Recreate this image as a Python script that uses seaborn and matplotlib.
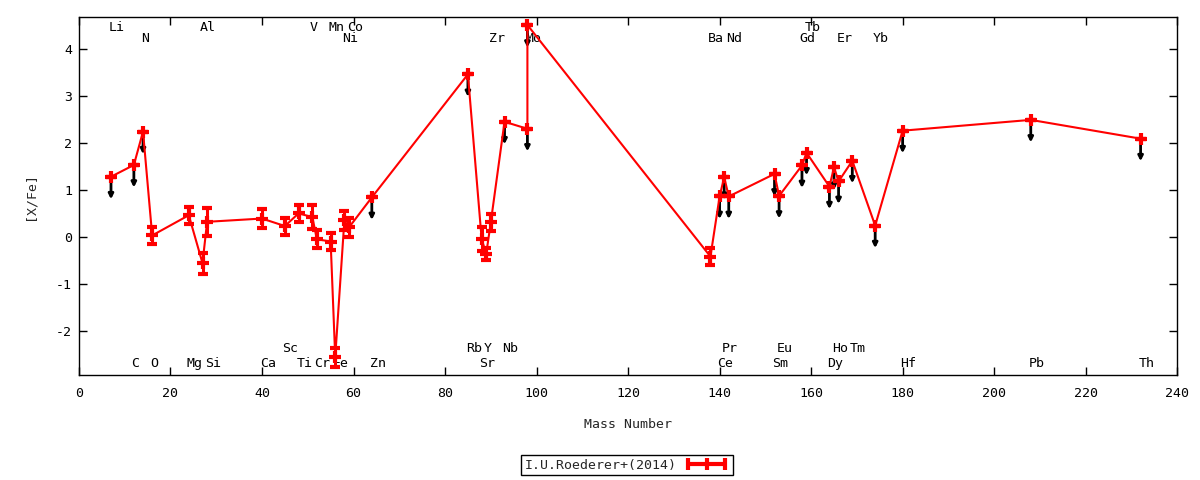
import matplotlib
matplotlib.use('Agg')
import matplotlib.pyplot as plt
from matplotlib.lines import Line2D
import pandas as pd
import seaborn as sns

# Roederer+(2014) abundances, ordered by mass number
element = ['Li', 'C', 'N', 'O', 'Mg', 'Al', 'Si', 'Ca', 'Sc', 'Ti', 'V', 'Cr', 'Mn', 'Fe',
           'Ni', 'Co', 'Zn', 'Rb', 'Sr', 'Y', 'Zr', 'Nb', 'Mo', 'Mo', 'Ba', 'Ce', 'Pr', 'Nd',
           'Sm', 'Eu', 'Gd', 'Tb', 'Dy', 'Ho', 'Er', 'Tm', 'Yb', 'Hf', 'Pb', 'Th']
mass = [7, 12, 14, 16, 24, 27, 28, 40, 45, 48, 51, 52, 55, 56,
        58, 59, 64, 85, 88, 89, 90, 93, 98, 98, 138, 140, 141, 142,
        152, 153, 158, 159, 164, 165, 166, 169, 174, 180, 208, 232]
xfe = [1.28, 1.53, 2.24, 0.03, 0.46, -0.56, 0.32, 0.39, 0.23, 0.50, 0.42, -0.05, -0.10, -2.56,
       0.35, 0.20, 0.84, 3.46, -0.05, -0.36, 0.31, 2.45, 2.30, 4.51, -0.42, 0.86, 1.27, 0.86,
       1.34, 0.87, 1.52, 1.79, 1.07, 1.48, 1.18, 1.62, 0.24, 2.26, 2.49, 2.09]
err = [0, 0, 0, 0.19, 0.18, 0.22, 0.30, 0.20, 0.18, 0.18, 0.25, 0.19, 0.19, 0.20,
       0.20, 0.20, 0, 0, 0.25, 0.13, 0.18, 0, 0, 0, 0.18, 0, 0, 0,
       0, 0, 0, 0, 0, 0, 0, 0, 0, 0, 0, 0]
upper = [1, 1, 1, 0, 0, 0, 0, 0, 0, 0, 0, 0, 0, 0,
         0, 0, 1, 1, 0, 0, 0, 1, 1, 1, 0, 1, 1, 1,
         1, 1, 1, 1, 1, 1, 1, 1, 1, 1, 1, 1]

# element name labels and the row they sit in
label_names = ['Li', 'Al', 'V', 'Mn', 'Co', 'Tb',
               'N', 'Ni', 'Zr', 'Mo', 'Ba', 'Nd', 'Gd', 'Er', 'Yb',
               'Sc', 'Rb', 'Y', 'Nb', 'Pr', 'Eu', 'Ho', 'Tm',
               'C', 'O', 'Mg', 'Si', 'Ca', 'Ti', 'Cr', 'Fe', 'Zn', 'Sr', 'Ce', 'Sm', 'Dy', 'Hf', 'Pb', 'Th']
label_mass = [7, 27, 51, 55, 59, 159,
              14, 58, 90, 98, 138, 142, 158, 166, 174,
              45, 85, 89, 93, 141, 153, 165, 169,
              12, 16, 24, 28, 40, 48, 52, 56, 64, 88, 140, 152, 164, 180, 208, 232]
label_row = [0] * 6 + [1] * 9 + [2] * 8 + [3] * 16
row_y = [4.45, 4.23, -2.38, -2.70]

df = pd.DataFrame({'mass': mass, 'xfe': xfe, 'err': err, 'upper': upper})

sns.set_theme(style='ticks')
plt.rcParams['font.family'] = ['DejaVu Sans Mono', 'DejaVu Sans']
plt.rcParams['font.size'] = 9.5
plt.rcParams['axes.unicode_minus'] = False

fig, ax = plt.subplots(figsize=(12, 4.8), dpi=100)
fig.subplots_adjust(left=0.0658, right=0.981, top=0.9646, bottom=0.2188)

for name, m, r in zip(label_names, label_mass, label_row):
    ax.text(m - 0.5, row_y[r], name, ha='left', va='center', fontsize=9.5, color='black', zorder=1)

# upper limits: black arrows pointing down
ul = df[df['upper'] == 1]
for m, v in zip(ul['mass'], ul['xfe']):
    ax.annotate('', xy=(m, v - 0.48), xytext=(m, v),
                arrowprops=dict(arrowstyle='-|>', color='black', lw=2, mutation_scale=7,
                                shrinkA=0, shrinkB=0), zorder=2)

ax.errorbar(df['mass'], df['xfe'], yerr=df['err'], fmt='none', ecolor='red',
            elinewidth=2.2, capsize=3.8, capthick=3, zorder=3)
sns.lineplot(data=df, x='mass', y='xfe', sort=False, estimator=None, color='red', lw=1.5,
             marker='+', markersize=8, markeredgewidth=3, markeredgecolor='red', ax=ax, zorder=4)

ax.set_xlim(0, 240)
ax.set_ylim(-2.94, 4.68)
ax.set_xticks(range(0, 241, 20))
ax.set_yticks(range(-2, 5))
ax.tick_params(direction='in', top=True, right=True, length=6, width=1, colors='black',
               labelsize=9.5)
ax.tick_params(axis='x', pad=9)
ax.tick_params(axis='y', pad=5)
for s in ax.spines.values():
    s.set_visible(True)
    s.set_color('black')
    s.set_linewidth(1)

ax.set_xlabel('Mass Number', fontsize=9.5)
ax.set_ylabel('[X/Fe]', fontsize=9.5)
ax.xaxis.set_label_coords(0.5, -0.137)
ax.xaxis.label.set_va('center')
ax.yaxis.set_label_coords(-0.045, 0.5)
ax.yaxis.label.set_va('center')

handle = Line2D([0], [0], color='red', lw=3, marker='|', markersize=9, markeredgewidth=3)
leg = fig.legend([handle], ['I.U.Roederer+(2014)'], loc='center', bbox_to_anchor=(627 / 1200, 1 - 465 / 480),
                 markerfirst=False, numpoints=3, handlelength=3.4, handletextpad=0.6,
                 fancybox=False, framealpha=1, edgecolor='black', borderpad=0.25, fontsize=9.5)
leg.get_frame().set_linewidth(1)

fig.savefig('out.png', dpi=100)
